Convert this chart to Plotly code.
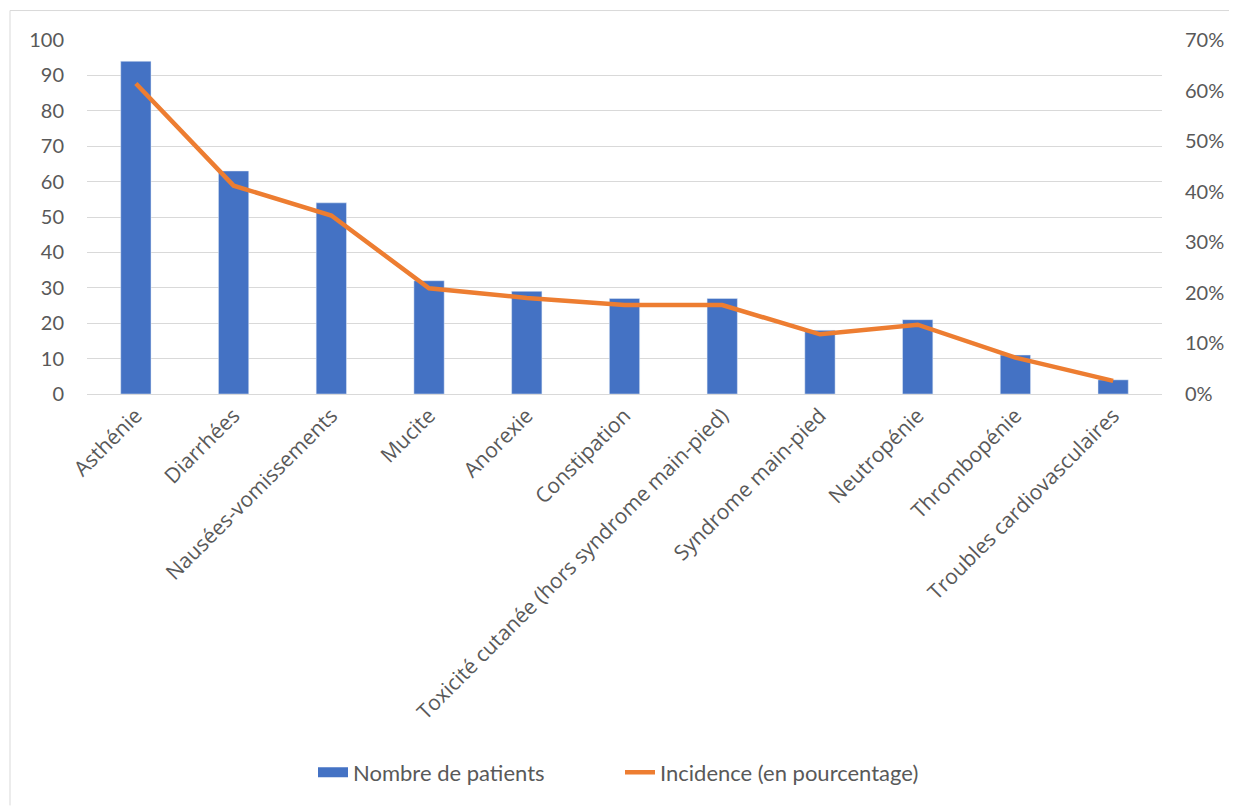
import plotly.graph_objects as go

# Effets indésirables
categories = [
    "Asthénie", "Diarrhées", "Nausées-vomissements", "Mucite", "Anorexie",
    "Constipation", "Toxicité cutanée (hors syndrome main-pied)",
    "Syndrome main-pied", "Neutropénie", "Thrombopénie",
    "Troubles cardiovasculaires",
]
nb_patients = [94, 63, 54, 32, 29, 27, 27, 18, 21, 11, 4]
incidence = [0.614, 0.412, 0.353, 0.209, 0.190, 0.176, 0.176, 0.118, 0.137, 0.072, 0.026]

BLUE = "#4472C4"
ORANGE = "#ED7D31"
GRID = "#D9D9D9"
TEXT = "#595959"

fig = go.Figure()

fig.add_trace(go.Bar(
    x=categories,
    y=nb_patients,
    name="Nombre de patients",
    marker_color=BLUE,
    showlegend=False,
    yaxis="y",
))

# legend swatch for the bars (wide rectangle like the original)
fig.add_trace(go.Scatter(
    x=[None], y=[None],
    name="Nombre de patients",
    mode="lines",
    line=dict(color=BLUE, width=13),
    hoverinfo="skip",
))

fig.add_trace(go.Scatter(
    x=categories,
    y=incidence,
    name="Incidence (en pourcentage)",
    mode="lines",
    line=dict(color=ORANGE, width=4.5),
    yaxis="y2",
))

# page has an 8px body margin, so work in figure pixels
W, H = 1229, 798
L, R, T, B = 79, 1154, 31.5, 386
pw, ph = R - L, B - T

fig.update_layout(
    width=W,
    height=H,
    margin=dict(l=L, r=W - R, t=T, b=H - B),
    plot_bgcolor="white",
    paper_bgcolor="white",
    bargap=0.69,
    font=dict(family="Lato, sans-serif", color=TEXT, size=20),
    xaxis=dict(
        tickangle=-45,
        tickfont=dict(family="Open Sans, sans-serif", size=21, color=TEXT),
        showline=True,
        linecolor=GRID,
        linewidth=1,
        showgrid=False,
        ticks="",
    ),
    yaxis=dict(
        range=[0, 100],
        dtick=10,
        showgrid=True,
        gridcolor=GRID,
        gridwidth=1,
        zeroline=False,
        ticks="",
        ticklabelstandoff=22,
        tickfont=dict(size=20, color=TEXT),
    ),
    yaxis2=dict(
        range=[0, 0.7],
        dtick=0.1,
        tickformat=".0%",
        overlaying="y",
        side="right",
        showgrid=False,
        zeroline=False,
        ticks="",
        ticklabelstandoff=22,
        tickfont=dict(size=20, color=TEXT),
    ),
    legend=dict(
        orientation="h",
        x=(620 - 8 - L) / pw,
        xanchor="center",
        y=(B - 765) / ph,
        yanchor="middle",
        font=dict(size=22, color=TEXT),
        entrywidth=262,
        entrywidthmode="pixels",
    ),
)

# outer chart frame: only left and top edges are inside the picture
fx0 = (2 - L) / pw
fy1 = (B - 2) / ph
fig.add_shape(type="line", xref="paper", yref="paper",
              x0=fx0, x1=fx0, y0=(B - H) / ph, y1=fy1,
              line=dict(color=GRID, width=1), layer="below")
fig.add_shape(type="line", xref="paper", yref="paper",
              x0=fx0, x1=(W - L) / pw, y0=fy1, y1=fy1,
              line=dict(color=GRID, width=1), layer="below")

fig.write_html("out.html")
